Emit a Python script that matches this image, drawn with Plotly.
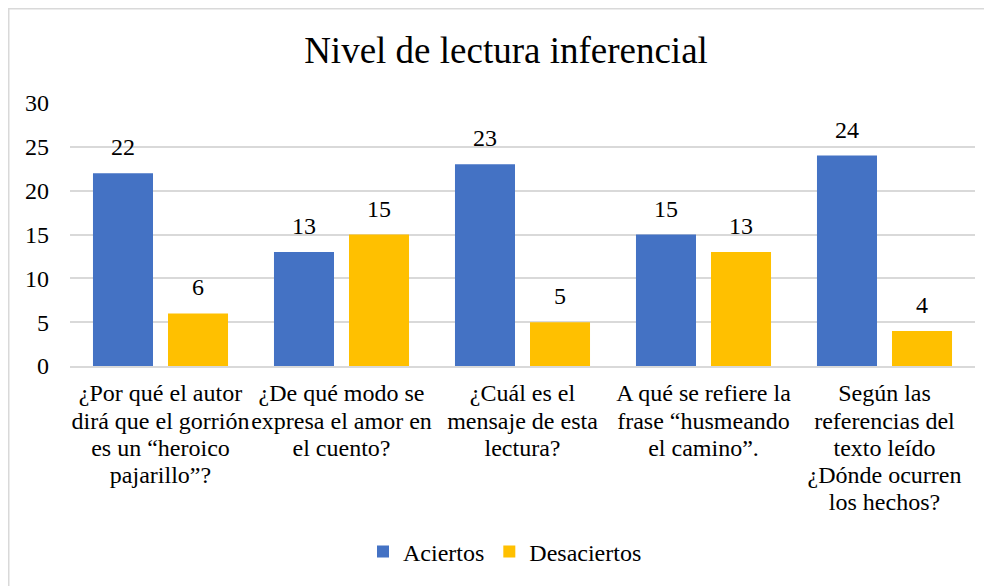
import plotly.graph_objects as go

category_lines = [
    ["¿Por qué el autor", "dirá que el gorrión", "es un “heroico", "pajarillo”?"],
    ["¿De qué modo se", "expresa el amor en", "el cuento?"],
    ["¿Cuál es el", "mensaje de esta", "lectura?"],
    ["A qué se refiere la", "frase “husmeando", "el camino”."],
    ["Según las", "referencias del", "texto leído", "¿Dónde ocurren", "los hechos?"],
]
aciertos = [22, 13, 23, 15, 24]
desaciertos = [6, 15, 5, 13, 4]
series_names = ["Aciertos", "Desaciertos"]
colors = ["#4472C4", "#FFC000"]
y_ticks = [0, 5, 10, 15, 20, 25, 30]

FONT = "Liberation Serif"
TXT = 24

categories = ["<br>".join(f'<span style="font-size:{TXT}px">{ln}</span>' for ln in lines)
              for lines in category_lines]

fig = go.Figure()
for name, vals, col in zip(series_names, [aciertos, desaciertos], colors):
    fig.add_trace(go.Bar(x=categories, y=vals, name=name, marker_color=col,
                         marker_line_width=0))

# data labels
for shift, vals in zip([-37.5, 37.5], [aciertos, desaciertos]):
    for c, v in zip(categories, vals):
        fig.add_annotation(x=c, y=v, text=str(v), showarrow=False,
                           xshift=shift, yshift=11, yanchor="bottom",
                           font=dict(family=FONT, size=TXT, color="#000000"))

# outer chart border
fig.add_shape(type="rect", xref="paper", yref="paper",
              x0=(0.75 - 62) / 905, x1=1.2, y0=-1.0, y1=1 + (95 - 0.75) / 263,
              line=dict(color="#D9D9D9", width=1.5), layer="below")

fig.update_layout(
    width=984, height=578,
    margin=dict(l=62, r=17, t=95, b=220),
    paper_bgcolor="white", plot_bgcolor="white",
    font=dict(family=FONT, size=TXT, color="#000000"),
    title=dict(text="Nivel de lectura inferencial", x=498 / 984, xref="container",
               xanchor="center", y=1 - 42 / 578, yref="container", yanchor="middle",
               font=dict(family=FONT, size=37, color="#000000")),
    barmode="group", bargap=0.171, bargroupgap=0.2,
    showlegend=True,
    legend=dict(orientation="h", x=497 / 984, xref="container", xanchor="center",
                y=1 - 544 / 578, yref="container", yanchor="middle",
                font=dict(family=FONT, size=TXT), itemwidth=30,
                traceorder="normal"),
)
fig.update_xaxes(showline=True, linecolor="#D9D9D9", linewidth=2,
                 ticks="", tickangle=0, ticklabelstandoff=8, automargin=False,
                 tickfont=dict(family=FONT, size=21))
fig.update_yaxes(range=[0, 30], tickvals=y_ticks, showgrid=True,
                 gridcolor="#D9D9D9", gridwidth=1.5, zeroline=False,
                 ticks="", ticklabelstandoff=20, automargin=False,
                 tickfont=dict(family=FONT, size=TXT))

fig.write_html("out.html")
